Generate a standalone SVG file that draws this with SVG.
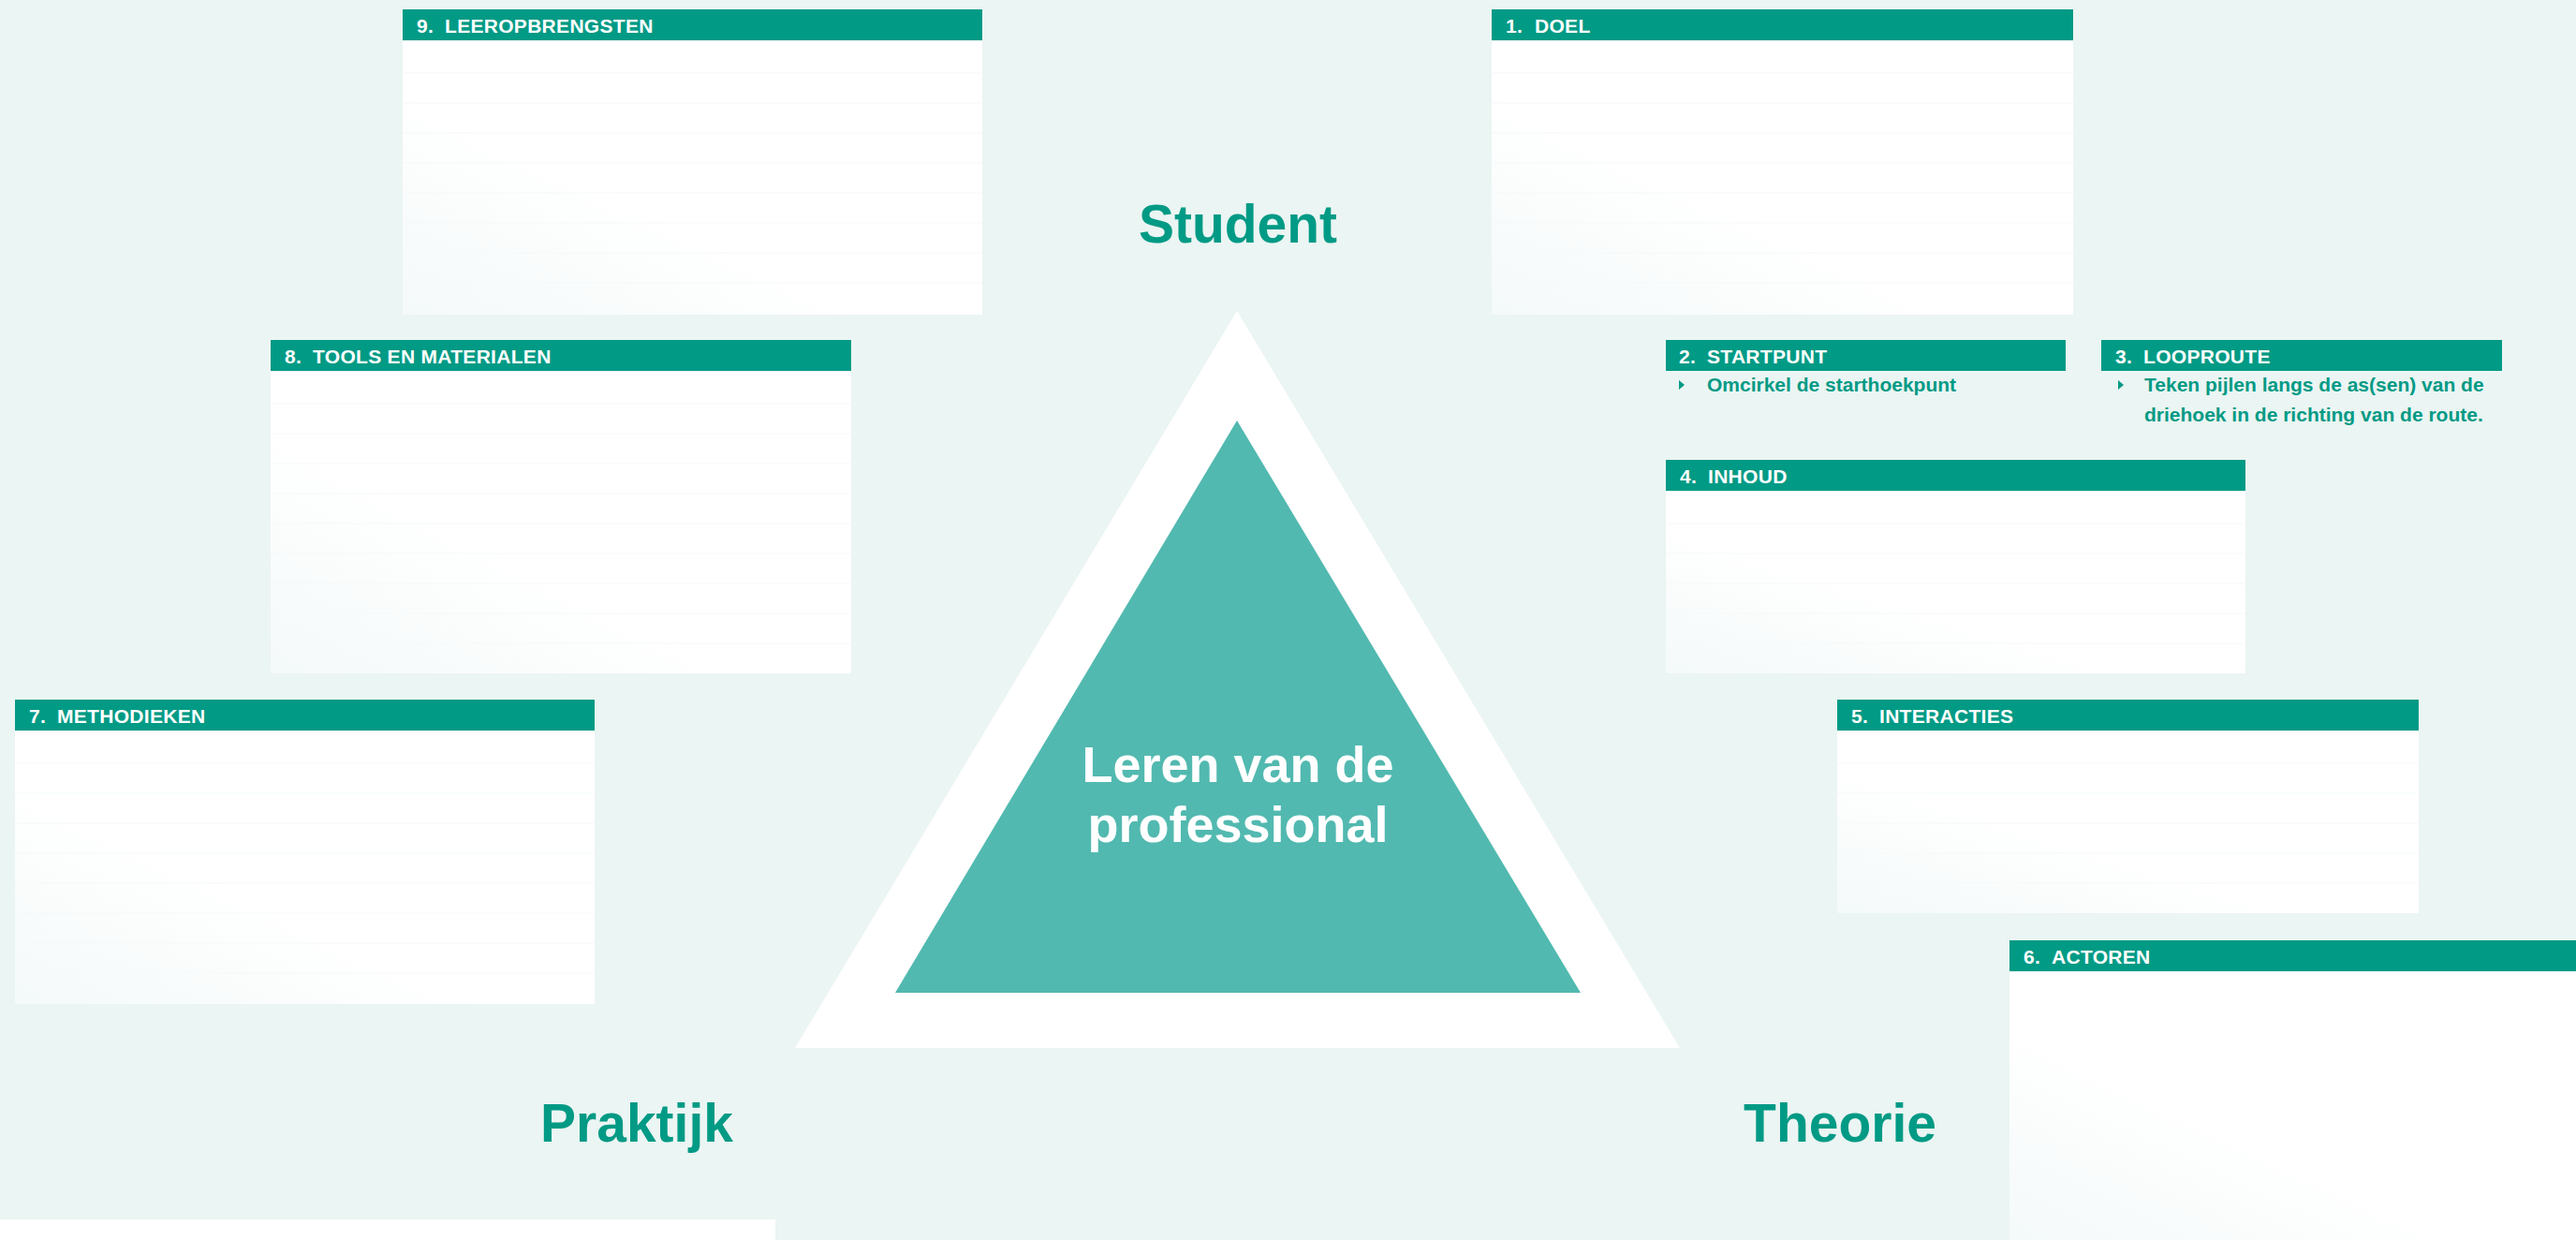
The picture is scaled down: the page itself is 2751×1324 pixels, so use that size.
<svg xmlns="http://www.w3.org/2000/svg" width="2751" height="1324" viewBox="0 0 2751 1324">
<style>
.bg{fill:#EBF5F3}
.hdr{fill:#009A85}
.body{fill:url(#bodyGrad)}
.rule{stroke:#F5F9F9;stroke-width:1}
.ht{font-family:"Liberation Sans",Arial,sans-serif;font-weight:bold;font-size:21px;fill:#FFFFFF;letter-spacing:0.3px}
.it{font-family:"Liberation Sans",Arial,sans-serif;font-weight:bold;font-size:21px;fill:#009A85}
.corner{font-family:"Liberation Sans",Arial,sans-serif;font-weight:bold;font-size:57px;fill:#009A85;text-anchor:middle}
.center{font-family:"Liberation Sans",Arial,sans-serif;font-weight:bold;font-size:54px;fill:#FFFFFF;text-anchor:middle}
.bullet{fill:#009A85}
</style>
<defs>
<linearGradient id="bodyGrad" x1="1" y1="0" x2="0" y2="1">
<stop offset="0" stop-color="#FFFFFF"/>
<stop offset="0.6" stop-color="#FFFFFF"/>
<stop offset="1" stop-color="#F4F9F9"/>
</linearGradient>
<path id="tri" d="M0,0 L6,5 L0,10 Z"/>
</defs>
<rect class="bg" x="0" y="0" width="2751" height="1324"/>

<g id="triangle">
<polygon points="1321,332 1794,1119 849,1119" fill="#FFFFFF"/>
<polygon points="1321,449 1688,1060 956,1060" fill="#52B9B0"/>
<text class="center" x="1322" y="835">Leren van de</text>
<text class="center" x="1322" y="899">professional</text>
</g>

<g id="connectors"></g>

<g id="label-student"><text class="corner" x="1322" y="259">Student</text></g>
<g id="label-praktijk"><text class="corner" x="680" y="1219">Praktijk</text></g>
<g id="label-theorie"><text class="corner" x="1965" y="1219">Theorie</text></g>

<g id="box9">
<rect class="body" x="430" y="44" width="619" height="292"/>
<g class="rule"><line x1="430" y1="78" x2="1049" y2="78"/><line x1="430" y1="110" x2="1049" y2="110"/><line x1="430" y1="142" x2="1049" y2="142"/><line x1="430" y1="174" x2="1049" y2="174"/><line x1="430" y1="206" x2="1049" y2="206"/><line x1="430" y1="238" x2="1049" y2="238"/><line x1="430" y1="270" x2="1049" y2="270"/><line x1="430" y1="302" x2="1049" y2="302"/></g>
<rect class="hdr" x="430" y="10" width="619" height="33"/>
<text class="ht" y="35"><tspan x="445">9.</tspan><tspan x="475">LEEROPBRENGSTEN</tspan></text>
</g>

<g id="box1">
<rect class="body" x="1593" y="44" width="621" height="292"/>
<g class="rule"><line x1="1593" y1="78" x2="2214" y2="78"/><line x1="1593" y1="110" x2="2214" y2="110"/><line x1="1593" y1="142" x2="2214" y2="142"/><line x1="1593" y1="174" x2="2214" y2="174"/><line x1="1593" y1="206" x2="2214" y2="206"/><line x1="1593" y1="238" x2="2214" y2="238"/><line x1="1593" y1="270" x2="2214" y2="270"/><line x1="1593" y1="302" x2="2214" y2="302"/></g>
<rect class="hdr" x="1593" y="10" width="621" height="33"/>
<text class="ht" y="35"><tspan x="1608">1.</tspan><tspan x="1639">DOEL</tspan></text>
</g>

<g id="box8">
<rect class="body" x="289" y="397" width="620" height="322"/>
<g class="rule"><line x1="289" y1="431" x2="909" y2="431"/><line x1="289" y1="463" x2="909" y2="463"/><line x1="289" y1="495" x2="909" y2="495"/><line x1="289" y1="527" x2="909" y2="527"/><line x1="289" y1="559" x2="909" y2="559"/><line x1="289" y1="591" x2="909" y2="591"/><line x1="289" y1="623" x2="909" y2="623"/><line x1="289" y1="655" x2="909" y2="655"/><line x1="289" y1="687" x2="909" y2="687"/></g>
<rect class="hdr" x="289" y="363" width="620" height="33"/>
<text class="ht" y="388"><tspan x="304">8.</tspan><tspan x="334">TOOLS EN MATERIALEN</tspan></text>
</g>

<g id="box7">
<rect class="body" x="16" y="781" width="619" height="291"/>
<g class="rule"><line x1="16" y1="815" x2="635" y2="815"/><line x1="16" y1="847" x2="635" y2="847"/><line x1="16" y1="879" x2="635" y2="879"/><line x1="16" y1="911" x2="635" y2="911"/><line x1="16" y1="943" x2="635" y2="943"/><line x1="16" y1="975" x2="635" y2="975"/><line x1="16" y1="1007" x2="635" y2="1007"/><line x1="16" y1="1039" x2="635" y2="1039"/></g>
<rect class="hdr" x="16" y="747" width="619" height="33"/>
<text class="ht" y="772"><tspan x="31">7.</tspan><tspan x="61">METHODIEKEN</tspan></text>
</g>

<g id="box2">
<rect class="hdr" x="1779" y="363" width="427" height="33"/>
<text class="ht" y="388"><tspan x="1793">2.</tspan><tspan x="1823">STARTPUNT</tspan></text>
<use href="#tri" class="bullet" x="1793" y="406"/>
<text class="it" x="1823" y="418">Omcirkel de starthoekpunt</text>
</g>

<g id="box3">
<rect class="hdr" x="2244" y="363" width="428" height="33"/>
<text class="ht" y="388"><tspan x="2259">3.</tspan><tspan x="2289">LOOPROUTE</tspan></text>
<use href="#tri" class="bullet" x="2262" y="406"/>
<text class="it" x="2290" y="418">Teken pijlen langs de as(sen) van de</text>
<text class="it" x="2290" y="450">driehoek in de richting van de route.</text>
</g>

<g id="box4">
<rect class="body" x="1779" y="525" width="619" height="194"/>
<g class="rule"><line x1="1779" y1="559" x2="2398" y2="559"/><line x1="1779" y1="591" x2="2398" y2="591"/><line x1="1779" y1="623" x2="2398" y2="623"/><line x1="1779" y1="655" x2="2398" y2="655"/><line x1="1779" y1="687" x2="2398" y2="687"/></g>
<rect class="hdr" x="1779" y="491" width="619" height="33"/>
<text class="ht" y="516"><tspan x="1794">4.</tspan><tspan x="1824">INHOUD</tspan></text>
</g>

<g id="box5">
<rect class="body" x="1962" y="781" width="621" height="194"/>
<g class="rule"><line x1="1962" y1="815" x2="2583" y2="815"/><line x1="1962" y1="847" x2="2583" y2="847"/><line x1="1962" y1="879" x2="2583" y2="879"/><line x1="1962" y1="911" x2="2583" y2="911"/><line x1="1962" y1="943" x2="2583" y2="943"/></g>
<rect class="hdr" x="1962" y="747" width="621" height="33"/>
<text class="ht" y="772"><tspan x="1977">5.</tspan><tspan x="2007">INTERACTIES</tspan></text>
</g>

<g id="box6">
<rect class="body" x="2146" y="1038" width="605" height="286"/>
<rect class="hdr" x="2146" y="1004" width="605" height="33"/>
<text class="ht" y="1029"><tspan x="2161">6.</tspan><tspan x="2191">ACTOREN</tspan></text>
</g>

<g id="box-bottom">
<rect x="0" y="1302" width="828" height="22" fill="#FFFFFF"/>
</g>
</svg>
